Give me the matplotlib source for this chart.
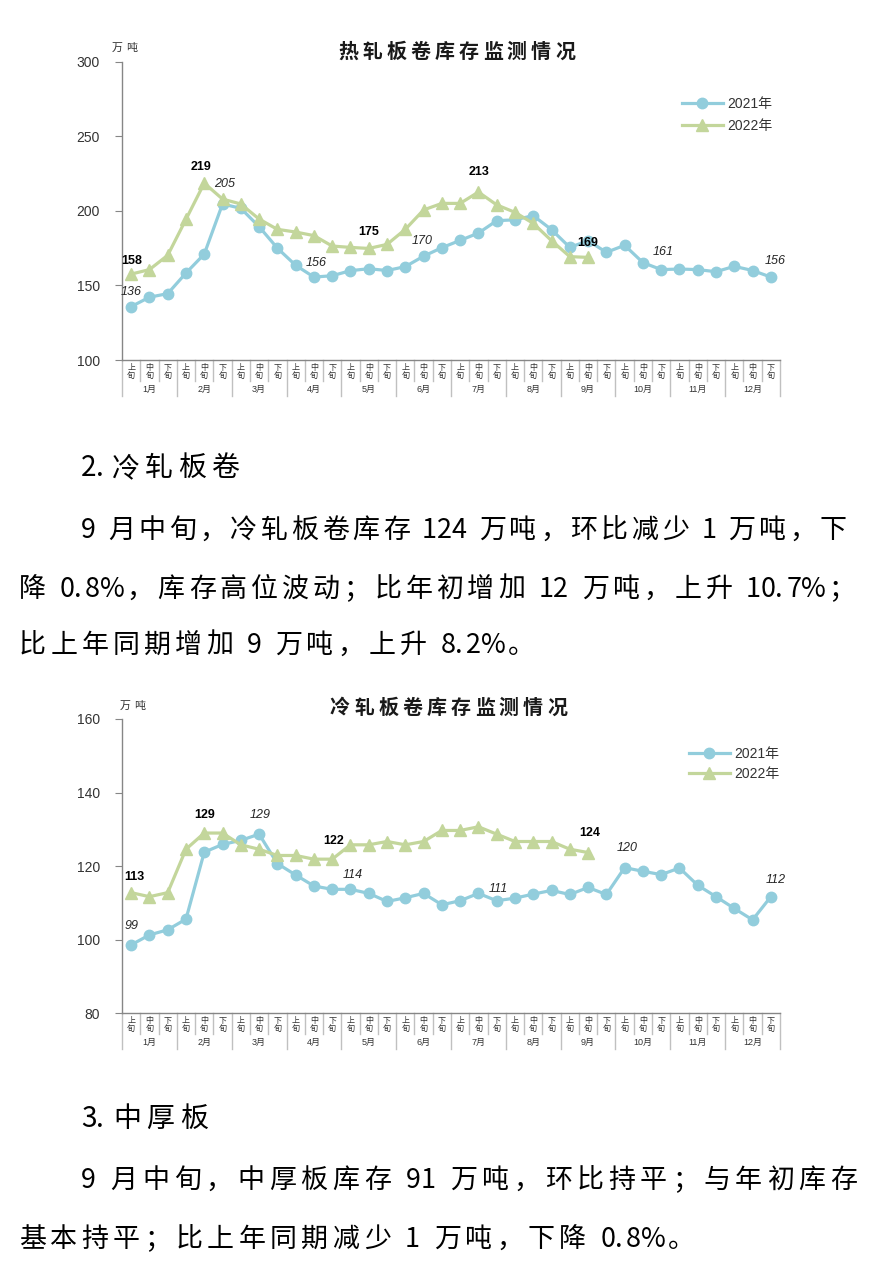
import matplotlib
matplotlib.use('Agg')
import matplotlib.pyplot as plt

W, H = 875, 1279
plt.rcParams['font.family'] = ['Liberation Sans', 'Noto Sans CJK SC', 'DejaVu Sans']

# ---- data ----
months = [f'{m}月' for m in range(1, 13)]
periods = ['上', '中', '下']

hot_2021 = [135.8, 142.1, 144.5, 158.3, 171.0, 204.6, 201.7, 189.4, 175.0, 163.5,
            155.6, 156.5, 159.9, 161.2, 160.0, 162.6, 169.6, 175.3, 180.2, 185.1,
            193.4, 194.0, 196.8, 187.4, 175.5, 180.0, 172.2, 176.9, 165.3, 160.6,
            161.0, 160.6, 159.2, 162.8, 160.0, 155.6]
hot_2022 = [157.6, 160.6, 170.2, 194.3, 218.6, 207.9, 204.6, 194.5, 187.6, 185.8,
            183.4, 176.4, 175.5, 174.8, 177.5, 187.6, 200.6, 205.0, 205.0, 212.6,
            204.0, 199.0, 191.6, 180.0, 169.3, 168.8]
cold_2021 = [98.6, 101.3, 102.7, 105.6, 123.8, 125.9, 127.0, 128.7, 120.7, 117.6,
             114.6, 113.7, 113.7, 112.6, 110.4, 111.4, 112.6, 109.5, 110.6, 112.6,
             110.6, 111.3, 112.4, 113.4, 112.3, 114.2, 112.3, 119.6, 118.6, 117.7,
             119.5, 114.8, 111.7, 108.5, 105.4, 111.7]
cold_2022 = [112.8, 111.7, 112.8, 124.6, 129.0, 129.0, 125.8, 124.6, 122.9, 122.9,
             121.9, 121.9, 125.8, 125.8, 126.7, 125.8, 126.7, 129.7, 129.7, 130.7,
             128.7, 126.7, 126.7, 126.7, 124.6, 123.7]

# labelled points: index -> (dx, dy) offset in pixels
hot_2021_labels = {0: (0, 15), 5: (2, 20), 10: (2, 14), 16: (-1, 15), 29: (2, 18), 35: (4, 16)}
hot_2022_labels = {0: (1, 13), 4: (-3, 16), 13: (0, 16), 19: (1, 20), 25: (0, 14)}
cold_2021_labels = {0: (0, 19), 7: (1, 19), 12: (2, 14), 20: (2, 12), 27: (3, 20), 35: (5, 17)}
cold_2022_labels = {0: (3, 16), 4: (0, 18), 11: (1, 18), 25: (2, 20)}

BLUE = '#92CDDC'
GREEN = '#C3D69B'
AXIS = '#868686'
SEP = '#C0C0C0'
NARROW = '0123456789.%'
PUNCT = '，；。：、'

fig = plt.figure(figsize=(W / 100, H / 100), dpi=100)


def fx(x):
    return x / W


def fy(y):
    return 1 - y / H


def adv(ch):
    if ch == ' ':
        return 0.2
    if ord(ch) > 0x2000:
        return 1.0
    if ch == '%':
        return 0.85
    if ch == '.':
        return 0.4
    return 0.55


def place_line(s, x0, y, size_px, x_last, weight='normal', color='black'):
    # draw chars one by one so the line spans x0 .. x_last (justified),
    # keeping runs of digits tight
    advs = [adv(c) * size_px for c in s]
    wts = [0 if (a in NARROW and b in NARROW) else 1 for a, b in zip(s[:-1], s[1:])]
    gap = (x_last - x0 - sum(advs[:-1])) / max(sum(wts), 1)
    x = x0
    for i, c in enumerate(s):
        if c != ' ':
            if ord(c) > 0x2000 and c not in PUNCT:
                xx, ha = x + advs[i] / 2, 'center'
            else:
                xx, ha = x, 'left'
            fig.text(fx(xx), fy(y), c, fontsize=size_px * 0.72, ha=ha, va='baseline',
                     family=['Noto Sans CJK SC', 'DejaVu Sans'], weight=weight, color=color)
        if i < len(wts):
            x += advs[i] + gap * wts[i]


def chart(top, bottom, ymin, ymax, step, s21, s22, lab21, lab22, title, tx0, tx1, ty, unit_x, unit_y, leg_xy, leg_sp):
    left, right = 122, 780
    ax = fig.add_axes([fx(left), fy(bottom), (right - left) / W, (bottom - top) / H])
    hpx = bottom - top
    ax.plot(range(len(s21)), s21, color=BLUE, lw=2.3, marker='o', ms=7.5, label='2021年', zorder=3, clip_on=False)
    ax.plot(range(len(s22)), s22, color=GREEN, lw=2.3, marker='^', ms=8, label='2022年', zorder=4, clip_on=False)
    ax.set_xlim(-0.5, 35.5)
    ax.set_ylim(ymin, ymax)
    ax.set_yticks(range(ymin, ymax + 1, step))
    ax.tick_params(axis='y', length=5, color=AXIS, labelsize=10, labelcolor='#333333', pad=11)
    ax.set_xticks([])
    for s in ['top', 'right']:
        ax.spines[s].set_visible(False)
    for s in ['left', 'bottom']:
        ax.spines[s].set_color(AXIS)
        ax.spines[s].set_linewidth(1.0)

    for idx, (dx, dy) in lab21.items():
        ax.annotate(f'{round(s21[idx])}', (idx, s21[idx]), xytext=(dx * 0.72, dy * 0.72),
                    textcoords='offset points', ha='center', va='center', fontsize=9,
                    style='italic', color='#262626', zorder=6)
    for idx, (dx, dy) in lab22.items():
        ax.annotate(f'{round(s22[idx])}', (idx, s22[idx]), xytext=(dx * 0.72, dy * 0.72),
                    textcoords='offset points', ha='center', va='center', fontsize=9,
                    weight='bold', color='black', zorder=6)

    # category axis: 上/中/下 旬 and months
    tr = ax.get_xaxis_transform()
    for i in range(37):
        depth = 36 if i % 3 == 0 else 21
        ax.plot([i - 0.5, i - 0.5], [0, -depth / hpx], transform=tr, color=SEP, lw=1.0, clip_on=False)
    for i in range(36):
        ax.text(i, -7 / hpx, periods[i % 3], transform=tr, ha='center', va='center', fontsize=5.8,
                family=['Noto Sans CJK SC'], color='#333333')
        ax.text(i, -15 / hpx, '旬', transform=tr, ha='center', va='center', fontsize=5.8,
                family=['Noto Sans CJK SC'], color='#333333')
    for m in range(12):
        ax.text(3 * m + 1, -29 / hpx, months[m], transform=tr, ha='center', va='center', fontsize=6.5,
                color='#333333')

    place_line(title, tx0, ty + 7, 20, tx1, weight='bold', color='#1a1a1a')
    place_line('万吨', unit_x, unit_y + 4, 11, unit_x + 14, color='#333333')
    ax.legend(loc='upper left', bbox_to_anchor=(fx(leg_xy[0]), fy(leg_xy[1])), bbox_transform=fig.transFigure,
              frameon=False, fontsize=10, handlelength=2.95, handletextpad=0.3, borderpad=0,
              borderaxespad=0, labelspacing=leg_sp, numpoints=1, labelcolor='#333333')
    return ax


chart(61.7, 360, 100, 300, 50, hot_2021, hot_2022, hot_2021_labels, hot_2022_labels,
      '热轧板卷库存监测情况', 338, 555, 51, 112, 47, (682, 97), 0.6)
chart(719, 1013.3, 80, 160, 20, cold_2021, cold_2022, cold_2021_labels, cold_2022_labels,
      '冷轧板卷库存监测情况', 330, 547, 707, 120, 705, (689, 747), 0.45)

# ---- body text ----
BODY = 27
place_line('2.冷轧板卷', 81, 476, 28, 211)
place_line('9 月中旬，冷轧板卷库存 124 万吨，环比减少 1 万吨，下', 81, 538, BODY, 820)
place_line('降 0.8%，库存高位波动；比年初增加 12 万吨，上升 10.7%；', 19, 597, BODY, 828)
place_line('比上年同期增加 9 万吨，上升 8.2%。', 19, 653, BODY, 508)
place_line('3.中厚板', 81, 1127, 28, 180)
place_line('9 月中旬，中厚板库存 91 万吨，环比持平；与年初库存', 81, 1188, BODY, 830)
place_line('基本持平；比上年同期减少 1 万吨，下降 0.8%。', 19, 1247, BODY, 668)

fig.savefig('out.png', dpi=100)
